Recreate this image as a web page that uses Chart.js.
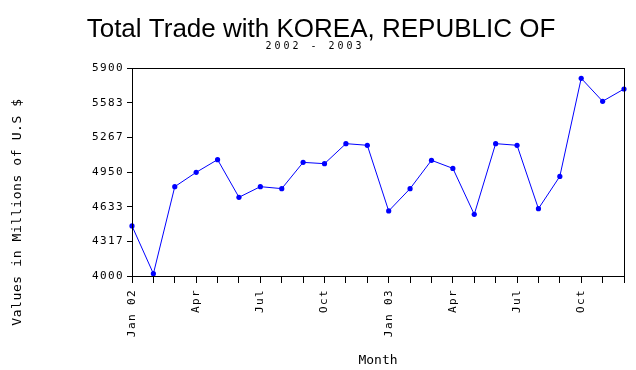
<!DOCTYPE html>
<html>
<head>
<meta charset="utf-8">
<script src="https://cdn.jsdelivr.net/npm/chart.js@4/dist/chart.umd.min.js"></script>
<style>
  html, body { margin: 0; padding: 0; background: #fff; }
  #wrap { width: 636px; height: 370px; }
</style>
</head>
<body>
<div id="wrap"><canvas id="c" width="636" height="370"></canvas></div>
<script>
const months = ['Jan 02','Feb 02','Mar 02','Apr 02','May 02','Jun 02','Jul 02','Aug 02','Sep 02','Oct 02','Nov 02','Dec 02',
                'Jan 03','Feb 03','Mar 03','Apr 03','May 03','Jun 03','Jul 03','Aug 03','Sep 03','Oct 03','Nov 03','Dec 03'];
const xTickLabels = ['Jan 02','','','Apr','','','Jul','','','Oct','','',
                     'Jan 03','','','Apr','','','Jul','','','Oct','',''];
const tradeValues = [4457, 4021, 4816, 4947, 5063, 4719, 4816, 4798, 5038, 5026, 5209, 5194,
                     4594, 4798, 5057, 4983, 4563, 5209, 5194, 4615, 4910, 5806, 5596, 5708];
const yTicks = [4000, 4317, 4633, 4950, 5267, 5583, 5900];
const titleText = 'Total Trade with KOREA, REPUBLIC OF';
const subtitleText = '2002 - 2003';
const yTitleText = 'Values in Millions of U.S $';
const xTitleText = 'Month';

const MONO = '"DejaVu Sans Mono", monospace';

const decor = {
  id: 'decor',
  beforeDraw(chart) {
    chart.ctx.letterSpacing = '1.4px';
  },
  afterDatasetsDraw(chart) {
    const {ctx, chartArea: a} = chart;
    ctx.save();
    ctx.strokeStyle = '#000';
    ctx.lineWidth = 1;
    ctx.strokeRect(Math.round(a.left) + 0.5, Math.round(a.top) + 0.5,
                   Math.round(a.right - a.left), Math.round(a.bottom - a.top));
    ctx.restore();
  },
  afterDraw(chart) {
    const ctx = chart.ctx;
    const a = chart.chartArea;
    ctx.save();
    ctx.fillStyle = '#000';
    ctx.letterSpacing = '0px';
    ctx.textAlign = 'center';
    ctx.textBaseline = 'alphabetic';
    ctx.font = '26px "Liberation Sans", Arial, sans-serif';
    ctx.fillText(titleText, 321, 37);
    ctx.letterSpacing = '3px';
    ctx.font = '10px ' + MONO;
    ctx.fillText(subtitleText, 315, 49);
    ctx.letterSpacing = '0px';
    ctx.font = '13px ' + MONO;
    ctx.fillText(xTitleText, (a.left + a.right) / 2, 364);
    ctx.translate(21, 212);
    ctx.rotate(-Math.PI / 2);
    ctx.letterSpacing = '0.6px';
    ctx.fillText(yTitleText, 0, 0);
    ctx.restore();
  }
};

new Chart(document.getElementById('c'), {
  type: 'line',
  data: {
    labels: months,
    datasets: [{
      data: tradeValues,
      borderColor: '#0000ff',
      backgroundColor: '#0000ff',
      borderWidth: 1,
      pointRadius: 2.6,
      pointStyle: 'circle',
      pointBorderWidth: 0,
      tension: 0,
      fill: false
    }]
  },
  options: {
    responsive: false,
    animation: false,
    devicePixelRatio: 1,
    layout: { padding: { left: 0, right: 12, top: 68, bottom: 0 } },
    plugins: { legend: { display: false }, title: { display: false }, tooltip: { enabled: false } },
    scales: {
      x: {
        type: 'category',
        offset: false,
        border: { display: false },
        grid: { display: true, drawOnChartArea: false, drawTicks: true, tickLength: 7, color: '#000', lineWidth: 1 },
        ticks: {
          autoSkip: false, maxRotation: 90, minRotation: 90, padding: 6,
          color: '#000', font: { family: MONO, size: 11 },
          callback: (v, i) => xTickLabels[i]
        },
        afterFit(s) { s.height = 94; s.paddingLeft = 0; s.paddingRight = 0; }
      },
      y: {
        min: 4000, max: 5900,
        border: { display: false },
        grid: { display: true, drawOnChartArea: false, drawTicks: true, tickLength: 5, color: '#000', lineWidth: 1 },
        afterBuildTicks(s) { s.ticks = yTicks.map(v => ({ value: v })); },
        ticks: {
          padding: 3, color: '#000', font: { family: MONO, size: 11 },
          callback: (v) => String(v)
        },
        afterFit(s) { s.width = 132; s.paddingTop = 0; s.paddingBottom = 0; }
      }
    }
  },
  plugins: [decor]
});
</script>
</body>
</html>
